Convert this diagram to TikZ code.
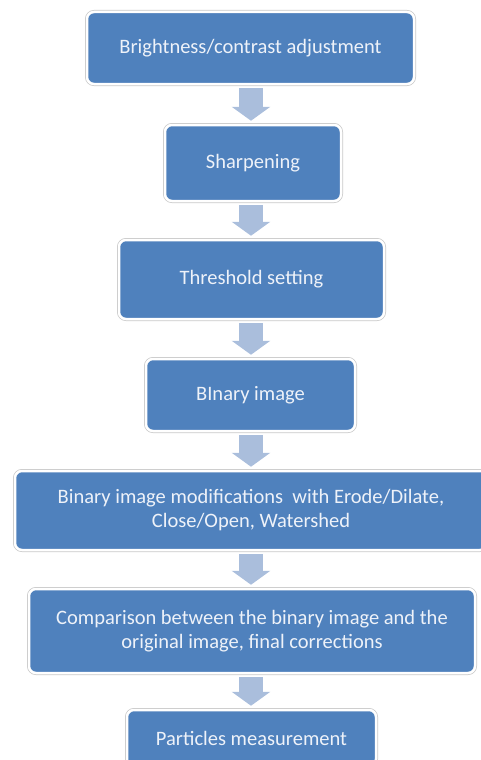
\documentclass[tikz,border=0pt]{standalone}
\usepackage{fontspec}
\setmainfont{Carlito}
\usetikzlibrary{arrows.meta,positioning}

\definecolor{stepblue}{RGB}{79,129,189}
\definecolor{steptext}{RGB}{238,242,249}
\definecolor{flowblue}{RGB}{170,190,220}
\definecolor{rimgray}{RGB}{200,200,200}

\begin{document}
\begin{tikzpicture}[
    x=1pt, y=-1pt,
    stepbox/.style={rectangle, rounded corners=7pt, fill=stepblue, draw=white, line width=2.5pt,
        preaction={draw=rimgray, line width=4pt},
        text=steptext, font=\fontsize{20.5}{24}\selectfont, align=center, inner sep=0pt},
    flow/.style={draw=flowblue, line width=24pt, -{Triangle[width=38pt,length=14pt]},
        shorten <=3pt, shorten >=3pt}
]
    \useasboundingbox (0,0) rectangle (480,760);

    % processing steps
    \node[stepbox, minimum width=327, minimum height=72] (bright) at (250.5,48) {Brightness/contrast adjustment};
    \node[stepbox, minimum width=176, minimum height=76] (sharp) at (253,163) {Sharpening};
    \node[stepbox, minimum width=265, minimum height=79] (thresh) at (251.5,279.5) {Threshold setting};
    \node[stepbox, minimum width=209, minimum height=72] (binary) at (250.5,395) {BInary image};
    \node[stepbox, minimum width=472, minimum height=79] (modif) at (251,510.5) {Binary image modifications\ \ with Erode/Dilate,\\Close/Open, Watershed};
    \node[stepbox, minimum width=446, minimum height=84] (compare) at (252,631) {Comparison between the binary image and the\\original image, final corrections};
    \node[stepbox, minimum width=249, minimum height=56] (measure) at (251.5,738) {Particles measurement};

    % block arrows between steps
    \draw[flow] (251,0 |- bright.south) -- (251,0 |- sharp.north);
    \draw[flow] (251,0 |- sharp.south) -- (251,0 |- thresh.north);
    \draw[flow] (251,0 |- thresh.south) -- (251,0 |- binary.north);
    \draw[flow] (251,0 |- binary.south) -- (251,0 |- modif.north);
    \draw[flow] (251,0 |- modif.south) -- (251,0 |- compare.north);
    \draw[flow] (251,0 |- compare.south) -- (251,0 |- measure.north);
\end{tikzpicture}
\end{document}
